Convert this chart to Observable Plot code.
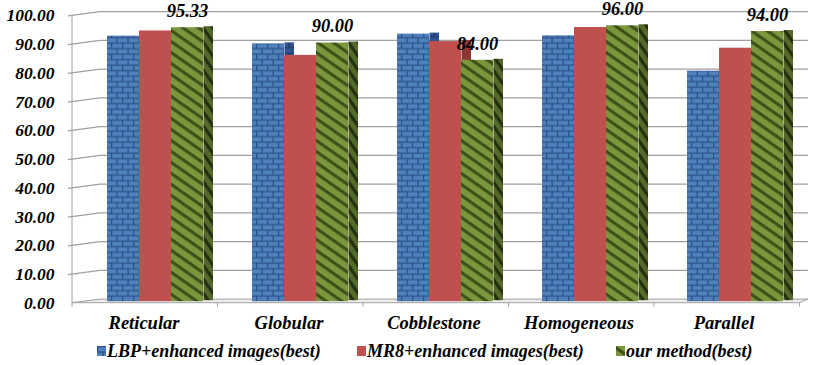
<!DOCTYPE html>
<html><head><meta charset="utf-8">
<script src="https://cdn.jsdelivr.net/npm/d3@7"></script>
<script src="https://cdn.jsdelivr.net/npm/@observablehq/plot@0.6"></script>
<style>
body{margin:0;background:#fff;}
#wrap{position:relative;width:824px;height:365px;overflow:hidden;font-family:"Liberation Serif","Times New Roman",serif;font-weight:bold;font-style:italic;}
#legend{position:absolute;left:0;top:335px;width:824px;height:30px;font-size:18px;}
.item{position:absolute;top:0;height:30px;line-height:30px;white-space:nowrap;}
.item svg{position:absolute;left:0;top:11px;}
.item span{position:absolute;left:10px;top:1px;}
</style></head>
<body>
<svg width="0" height="0" style="position:absolute">
<defs>
<pattern id="brick" patternUnits="userSpaceOnUse" width="11" height="11">
<rect width="11" height="11" fill="#4F81BD"/>
<path d="M0,0.6H11M0,6.1H11M0.6,0V5.5M6.1,5.5V11" stroke="#2D518A" stroke-width="1.3" fill="none"/>
</pattern>
<pattern id="brickSide" patternUnits="userSpaceOnUse" width="11" height="11">
<rect width="11" height="11" fill="#2F5597"/>
<path d="M0,0.6H11M0,6.1H11M0.6,0V5.5M6.1,5.5V11" stroke="#1F3864" stroke-width="1.3" fill="none"/>
</pattern>
<pattern id="stripe" patternUnits="userSpaceOnUse" width="9" height="9" patternTransform="rotate(35)">
<rect width="9" height="9" fill="#7B973D"/>
<rect width="9" height="3.2" fill="#3E5118"/>
</pattern>
<pattern id="stripeSide" patternUnits="userSpaceOnUse" width="8" height="8" patternTransform="rotate(55)">
<rect width="8" height="8" fill="#55692A"/>
<rect width="8" height="3.2" fill="#24300E"/>
</pattern>
</defs>
</svg>
<div id="wrap">
<div id="chart"></div>
<div id="legend"></div>
</div>
<script>
const categories = ["Reticular", "Globular", "Cobblestone", "Homogeneous", "Parallel"];
const seriesNames = ["LBP+enhanced images(best)", "MR8+enhanced images(best)", "our method(best)"];
const lbp = [92.4, 89.7, 93.1, 92.5, 80.2];
const mr8 = [94.2, 85.7, 90.5, 95.4, 88.2];
const ours = [95.33, 90.00, 84.00, 96.00, 94.00];
const yTicks = [0, 10, 20, 30, 40, 50, 60, 70, 80, 90, 100];

const frontFills = ["url(#brick)", "#C0504D", "url(#stripe)"];
const sideFills = ["url(#brickSide)", "#8E3533", "url(#stripeSide)"];

const seriesValues = [lbp, mr8, ours];
const data = categories.flatMap((c, i) => seriesNames.map((s, j) => ({category: c, series: s, value: seriesValues[j][i]})));
const oursData = data.filter(d => d.series === seriesNames[2]);

const W = 824, H = 335;
const mL = 72, mR = 24.5, mT = 15.3, mB = 32.3;
const barW = 32.5, depth = 9, sideW = 10;

const sideMarks = seriesNames.map((s, j) => Plot.barY(data.filter(d => d.series === s), {
  fx: "category", x: "series", y: "value", fill: sideFills[j],
  insetRight: barW - sideW, dx: barW + depth, dy: -2.5
}));
const frontMarks = seriesNames.map((s, j) => Plot.barY(data.filter(d => d.series === s), {
  fx: "category", x: "series", y: "value", fill: frontFills[j], dx: depth, dy: -1.5
}));

const plot = Plot.plot({
  width: W, height: H,
  marginLeft: mL, marginRight: mR, marginTop: mT, marginBottom: mB,
  style: {fontFamily: "'Liberation Serif','Times New Roman',serif", fontSize: "17px", fontWeight: "bold", fontStyle: "italic", color: "#000", background: "transparent", overflow: "visible"},
  fx: {domain: categories, paddingInner: 0.33, paddingOuter: 0.165, label: null},
  x: {domain: seriesNames, padding: 0, axis: null},
  y: {domain: [0, 100], label: null},
  marks: [
    ...sideMarks,
    ...frontMarks,
    Plot.text(oursData, {fx: "category", x: "series", y: "value", text: d => d.value.toFixed(2), dx: depth, dy: -18, fontSize: 18.5, fill: "#000"}),
    Plot.axisFx({anchor: "bottom", tickSize: 0, tickPadding: 13, label: null, dx: -2, fontSize: 18.5}),
    Plot.axisY({ticks: yTicks, tickFormat: d => d.toFixed(2), tickSize: 0, tickPadding: 19, dx: -24, label: null, fontSize: 17.5})
  ]
});
document.getElementById("chart").appendChild(plot);

// 3D wall gridlines and floor drawn with the plot's own scales
const ys = plot.scale("y");
const svg = d3.select(plot);
const g = svg.insert("g", ":first-child").attr("class", "walls");
const off = 3.6, backX = 100, backRight = 808, frontRight = W - mR;
const y0 = ys.apply(0);
g.append("path")
  .attr("d", `M${mL},${y0}L${backX},${y0 - off}L${backRight},${y0 - off}L${frontRight},${y0}Z`)
  .attr("fill", "#EDEDED").attr("stroke", "#A0A0A0").attr("stroke-width", 1);
yTicks.filter(v => v > 0).forEach(v => {
  const yy = ys.apply(v);
  g.append("path")
    .attr("d", `M${mL - 4},${yy + 0.6}L${backX},${yy - off}L${backRight},${yy - off}`)
    .attr("fill", "none").attr("stroke", "#A0A0A0").attr("stroke-width", 1.2);
});
g.append("line").attr("x1", mL).attr("x2", mL).attr("y1", ys.apply(100)).attr("y2", y0)
  .attr("stroke", "#A0A0A0").attr("stroke-width", 1);
const step = (frontRight - mL) / categories.length;
for (let k = 0; k <= categories.length; k++) {
  const xx = mL + k * step;
  g.append("line").attr("x1", xx).attr("x2", xx).attr("y1", y0).attr("y2", y0 + 4)
    .attr("stroke", "#A0A0A0").attr("stroke-width", 1);
}

// legend
const legendPos = [97, 357, 616];
const legend = document.getElementById("legend");
seriesNames.forEach((s, j) => {
  const item = document.createElement("div");
  item.className = "item";
  item.style.left = legendPos[j] + "px";
  item.innerHTML = `<svg width="9" height="10"><rect width="9" height="10" fill="${frontFills[j]}"/></svg><span>${s}</span>`;
  legend.appendChild(item);
});
</script>
</body></html>
